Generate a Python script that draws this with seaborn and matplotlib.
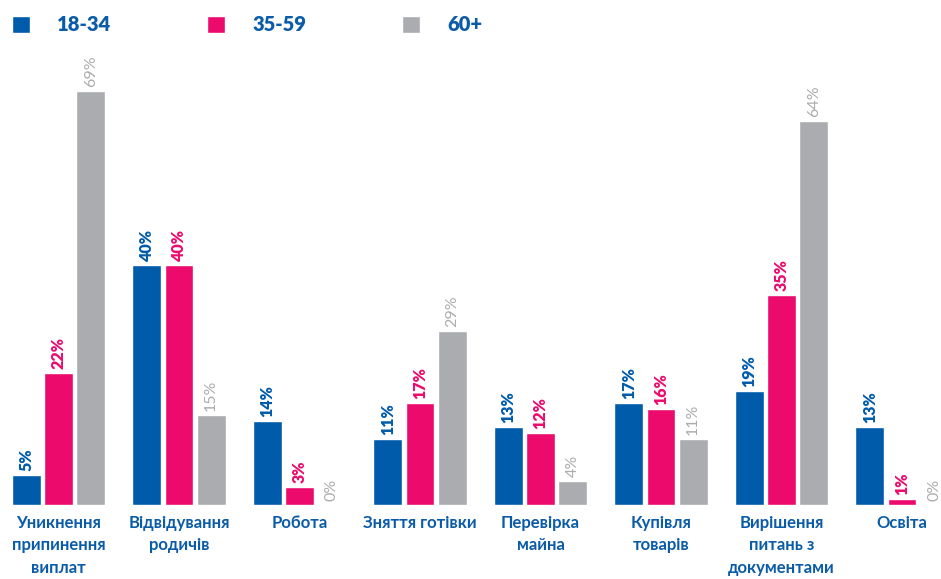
import matplotlib
matplotlib.use('Agg')
import matplotlib.pyplot as plt
import pandas as pd
import seaborn as sns
from matplotlib.patches import Patch

categories = ['Уникнення\nприпинення\nвиплат', 'Відвідування\nродичів', 'Робота',
              'Зняття готівки', 'Перевірка\nмайна', 'Купівля\nтоварів',
              'Вирішення\nпитань з\nдокументами', 'Освіта']
groups = ['18-34', '35-59', '60+']
v_18_34 = [5, 40, 14, 11, 13, 17, 19, 13]
v_35_59 = [22, 40, 3, 17, 12, 16, 35, 1]
v_60 = [69, 15, 0, 29, 4, 11, 64, 0]

colors = ['#005BAA', '#EC0A6D', '#ABACAF']
blue_txt = '#0A5CA8'

rows = []
for g, vals in zip(groups, [v_18_34, v_35_59, v_60]):
    for c, v in zip(categories, vals):
        rows.append({'cat': c, 'group': g, 'val': v})
df = pd.DataFrame(rows)

sns.set_style('white')
plt.rcParams['font.family'] = ['Lato', 'Open Sans', 'DejaVu Sans']

fig = plt.figure(figsize=(9.41, 5.79), dpi=100)
ax = fig.add_axes([0, 74 / 579, 1, 505 / 579])
sns.barplot(data=df, x='cat', y='val', hue='group', palette=colors,
            width=0.8, gap=0.1, saturation=1, ax=ax, legend=False)

ppu = 120.5
ax.set_xlim(-58.5 / ppu, (941 - 58.5) / ppu)
ax.set_ylim(0, 505 / 6)
for s in ax.spines.values():
    s.set_visible(False)
ax.set_yticks([])
ax.set_xlabel('')
ax.set_ylabel('')
ax.set_xticks(range(len(categories)))
ax.set_xticklabels(categories, color=blue_txt, fontsize=12, fontweight='bold',
                   linespacing=1.52, va='top')
ax.tick_params(axis='x', length=0, pad=7)

# value labels
for i, (cont, vals) in enumerate(zip(ax.containers, [v_18_34, v_35_59, v_60])):
    for bar, v in zip(cont, vals):
        xc = bar.get_x() + bar.get_width() / 2
        ax.text(xc, v + 0.6, f'{v}%', rotation=90, ha='center', va='bottom',
                fontsize=11.5, color=colors[i],
                fontweight='heavy' if i < 2 else 'normal')

handles = [Patch(facecolor=c) for c in colors]
leg = fig.legend(handles, groups, loc='upper left', bbox_to_anchor=(-8 / 941, 1 + 5 / 579),
                 ncol=3, frameon=False, fontsize=14.5, handlelength=0.9,
                 handleheight=0.95, handletextpad=1.35, columnspacing=4.75,
                 borderaxespad=0.6)
for t in leg.get_texts():
    t.set_color(blue_txt)
    t.set_fontweight('heavy')

fig.savefig('out.png', dpi=100)
